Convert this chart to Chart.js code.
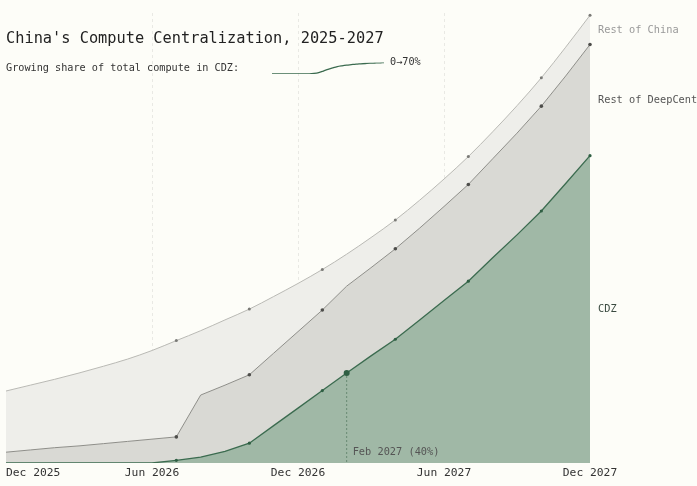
<!DOCTYPE html>
<html>
<head>
<meta charset="utf-8">
<script src="https://cdn.jsdelivr.net/npm/chart.js@4"></script>
<style>
  html, body { margin: 0; padding: 0; background: #fdfdf8; }
  #wrap { position: relative; width: 697px; height: 486px; overflow: hidden; font-family: "DejaVu Sans Mono", monospace; }
  #main { position: absolute; left: 0; top: 0; }
  #title { position: absolute; left: 6px; top: 28px; font-size: 15.3px; line-height: 20px; color: #222; white-space: nowrap; }
  #subtitle { position: absolute; left: 6px; top: 61px; font-size: 10.2px; line-height: 14px; color: #333; white-space: nowrap; }
  #sparkBox { position: absolute; left: 271px; top: 60px; width: 114px; height: 16px; }
  #sparkLabel { position: absolute; left: 390px; top: 55px; font-size: 10.2px; line-height: 14px; color: #333; white-space: nowrap; }
</style>
</head>
<body>
<div id="wrap">
  <div id="main" style="width:697px;height:486px"><canvas id="chart"></canvas></div>
  <div id="title">China's Compute Centralization, 2025-2027</div>
  <div id="subtitle">Growing share of total compute in CDZ:</div>
  <div id="sparkBox"><canvas id="spark"></canvas></div>
  <div id="sparkLabel">0→70%</div>
</div>
<script>
// Meses (eje x)
const months = ['Dec 2025', 'Jan 2026', 'Feb 2026', 'Mar 2026', 'Apr 2026', 'May 2026', 'Jun 2026',
  'Jul 2026', 'Aug 2026', 'Sep 2026', 'Oct 2026', 'Nov 2026', 'Dec 2026', 'Jan 2027', 'Feb 2027',
  'Mar 2027', 'Apr 2027', 'May 2027', 'Jun 2027', 'Jul 2027', 'Aug 2027', 'Sep 2027', 'Oct 2027',
  'Nov 2027', 'Dec 2027'];
const tickLabels = ['Dec 2025', 'Jun 2026', 'Dec 2026', 'Jun 2027', 'Dec 2027'];
const gridMonths = ['Jun 2026', 'Dec 2026', 'Jun 2027'];
const markerMonths = ['Jul 2026', 'Oct 2026', 'Jan 2027', 'Apr 2027', 'Jul 2027', 'Oct 2027', 'Dec 2027'];
const highlightMonth = 'Feb 2027';
const highlightShare = 40;

// Series apiladas (unidades relativas de cómputo)
const cdz = [0, 0, 0, 0, 0, 0, 0, 0.6, 1.3, 2.6, 4.4, 8.3, 12.2, 16.1, 20.0, 23.8, 27.5, 31.8, 36.1,
  40.4, 45.6, 50.7, 56.0, 62.1, 68.3];
const restDeepCent = [2.4, 2.9, 3.4, 3.8, 4.3, 4.8, 5.3, 5.2, 13.8, 14.7, 15.2, 16.1, 17.0, 17.9, 19.3,
  19.6, 20.1, 20.4, 20.9, 21.5, 22.0, 22.6, 23.3, 23.9, 24.7];
const restChina = [13.6, 14.4, 15.2, 16.2, 17.2, 18.3, 19.7, 21.4, 14.3, 14.5, 14.6, 12.6, 10.7, 9.0, 7.1,
  6.7, 6.4, 6.2, 6.1, 6.2, 6.0, 6.1, 6.3, 6.4, 6.5];

// Participación de CDZ (mini gráfica), en %
const sparkShare = [0, 0, 0, 0, 0, 0, 0, 0, 1, 4, 9, 18, 28, 37, 45, 50, 54, 57, 60, 62, 64, 66, 67, 68, 70];

const seriesNames = ['CDZ', 'Rest of DeepCent', 'Rest of China'];
const labelColors = ['#3a4a40', '#555', '#999'];

const FONT = '"DejaVu Sans Mono", monospace';

function markerRadius(size, withHighlight) {
  return ctx => {
    const m = months[ctx.dataIndex];
    if (withHighlight && m === highlightMonth) return 3;
    return markerMonths.includes(m) ? size : 0;
  };
}

// Etiquetas, anotación y nombres de series
const overlayPlugin = {
  id: 'overlay',
  afterDraw(chart) {
    const ctx = chart.ctx;
    const x = chart.scales.x;
    const y = chart.scales.y;
    const area = chart.chartArea;
    ctx.save();

    // línea punteada del mes destacado
    const hi = months.indexOf(highlightMonth);
    const hx = x.getPixelForValue(hi);
    ctx.strokeStyle = 'rgba(60,100,75,0.55)';
    ctx.lineWidth = 1;
    ctx.setLineDash([2, 2]);
    ctx.beginPath();
    ctx.moveTo(hx, y.getPixelForValue(cdz[hi]) + 3);
    ctx.lineTo(hx, area.bottom);
    ctx.stroke();
    ctx.setLineDash([]);

    ctx.font = '10.3px ' + FONT;
    ctx.fillStyle = '#555';
    ctx.textAlign = 'left';
    ctx.textBaseline = 'middle';
    ctx.fillText(highlightMonth + ' (' + highlightShare + '%)', hx + 6, area.bottom - 11);

    // etiquetas del eje x
    ctx.font = '11.3px ' + FONT;
    ctx.fillStyle = '#333';
    tickLabels.forEach((lab, i) => {
      ctx.textAlign = i === 0 ? 'left' : 'center';
      ctx.fillText(lab, x.getPixelForValue(months.indexOf(lab)), area.bottom + 10);
    });

    // nombres de series al final
    const last = months.length - 1;
    const stacks = [cdz, restDeepCent, restChina];
    let base = 0;
    ctx.font = '10.3px ' + FONT;
    ctx.textAlign = 'left';
    stacks.forEach((s, i) => {
      const mid = base + s[last] / 2;
      base += s[last];
      ctx.fillStyle = labelColors[i];
      ctx.fillText(seriesNames[i], x.getPixelForValue(last) + 8, y.getPixelForValue(mid));
    });
    ctx.restore();
  }
};

new Chart(document.getElementById('chart'), {
  type: 'line',
  data: {
    labels: months,
    datasets: [{
      label: seriesNames[0],
      data: cdz,
      borderColor: '#3b6b4f',
      backgroundColor: '#a0b8a6',
      borderWidth: 1.3,
      fill: 'origin',
      pointRadius: markerRadius(1.6, true),
      pointBackgroundColor: '#2f5f43',
      pointBorderWidth: 0,
      tension: 0
    }, {
      label: seriesNames[1],
      data: restDeepCent,
      borderColor: '#8e8e89',
      backgroundColor: '#d9d9d4',
      borderWidth: 1,
      fill: '-1',
      pointRadius: markerRadius(1.8, false),
      pointBackgroundColor: '#4d4d4a',
      pointBorderWidth: 0,
      tension: 0
    }, {
      label: seriesNames[2],
      data: restChina,
      borderColor: '#b9b9b4',
      backgroundColor: '#eeeeea',
      borderWidth: 1,
      fill: '-1',
      pointRadius: markerRadius(1.5, false),
      pointBackgroundColor: '#7a7a76',
      pointBorderWidth: 0,
      cubicInterpolationMode: 'monotone'
    }]
  },
  options: {
    responsive: true,
    maintainAspectRatio: false,
    animation: false,
    layout: { padding: { left: 6, right: 107, top: 13, bottom: 23 } },
    plugins: { legend: { display: false }, tooltip: { enabled: false } },
    scales: {
      x: {
        offset: false,
        z: 1,
        ticks: { display: false },
        grid: {
          drawTicks: false,
          color: ctx => gridMonths.includes(months[ctx.index]) ? 'rgba(0,0,0,0.08)' : 'rgba(0,0,0,0)'
        },
        border: { display: false, dash: [3, 3] }
      },
      y: {
        display: false,
        stacked: true,
        min: 0,
        max: 100
      }
    }
  },
  plugins: [overlayPlugin]
});

// Mini gráfica de participación
new Chart(document.getElementById('spark'), {
  type: 'line',
  data: {
    labels: months,
    datasets: [{
      data: sparkShare,
      borderColor: '#3b6b4f',
      borderWidth: 1.3,
      pointRadius: 0,
      fill: false,
      cubicInterpolationMode: 'monotone'
    }]
  },
  options: {
    responsive: true,
    maintainAspectRatio: false,
    animation: false,
    layout: { padding: { left: 1, right: 1, top: 2.5, bottom: 2 } },
    plugins: { legend: { display: false }, tooltip: { enabled: false } },
    scales: {
      x: { display: false },
      y: { display: false, min: 0, max: 70 }
    }
  }
});
</script>
</body>
</html>
